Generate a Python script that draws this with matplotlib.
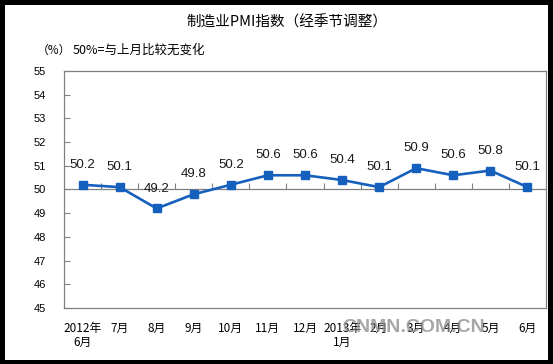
import numpy as np
import matplotlib
matplotlib.use("Agg")
from matplotlib import pyplot as plt
from matplotlib.patches import Rectangle
#
months=["2012年\n6月","7月","8月","9月","10月","11月","12月",
        "2013年\n1月","2月","3月","4月","5月","6月"]
pmi=[50.2,50.1,49.2,49.8,50.2,50.6,50.6,50.4,50.1,50.9,50.6,50.8,50.1]
yticks=[45,46,47,48,49,50,51,52,53,54,55]
#
W,H=553,364
CJK=['Noto Sans CJK SC','DejaVu Sans']
LINE='#1560BD'
GRID='#808080'
#
fig=plt.figure(figsize=(W/100,H/100),dpi=100)
fig.patch.set_facecolor('black')
# white inner panel, black frame left round it
fig.patches.append(Rectangle((5/W,4/H),543/W,355/H,transform=fig.transFigure,
                             facecolor='white',edgecolor='none',zorder=-5))
#
ax=fig.add_axes([64/W,1-308/H,482/W,237/H])
ax.set_zorder(2)
xs=np.arange(len(pmi))
ax.plot(xs,pmi,color=LINE,lw=1.9,marker='s',ms=5.5,mfc=LINE,mec=LINE,zorder=3)
for x,v in zip(xs,pmi):
    ax.annotate(f"{v:.1f}",(x,v),xytext=(0,10),textcoords='offset points',
                ha='center',va='bottom',fontsize=9.5,family='Liberation Sans',color='#1a1a1a')
ax.set_xlim(-0.5,len(pmi)-0.5)
ax.set_ylim(45,55)
ax.set_yticks(yticks)
ax.set_yticklabels([str(t) for t in yticks],fontsize=8,family='Liberation Sans')
ax.tick_params(axis='y',direction='in',length=4,pad=13,color=GRID,width=0.8)
ax.set_xticks(xs)
ax.set_xticklabels(months,fontsize=8.5,family=CJK,linespacing=1.15)
ax.tick_params(axis='x',length=0,pad=10)
for s in ax.spines.values():
    s.set_color(GRID)
    s.set_linewidth(0.9)
## 50 line with category ticks pointing up
ax.axhline(50,color=GRID,lw=0.9,zorder=1)
sec=ax.secondary_xaxis(0.5)
sec.set_xticks(np.arange(0.5,len(pmi)-1,1))
sec.set_xticklabels([])
sec.tick_params(direction='out',length=4,color=GRID,width=0.8)
sec.spines['bottom'].set_visible(False)
sec.spines['top'].set_visible(False)
#
fig.text(287/W,1-22/H,"制造业PMI指数（经季节调整）",ha='center',va='center',
         fontsize=10.5,family=CJK,color='black')
fig.text(37/W,1-50/H,"（%）",ha='left',va='center',fontsize=8.5,family=CJK)
fig.text(73/W,1-50/H,"50%=与上月比较无变化",ha='left',va='center',fontsize=9,family=CJK)
# site watermark
fig.text(414/W,1-328/H,"CNMN.COM.CN",ha='center',va='center',fontsize=14,
         family='Liberation Sans',weight='bold',color='#8a8a8a',alpha=0.75,zorder=5)
#
fig.savefig("out.png",dpi=100,facecolor=fig.get_facecolor())
